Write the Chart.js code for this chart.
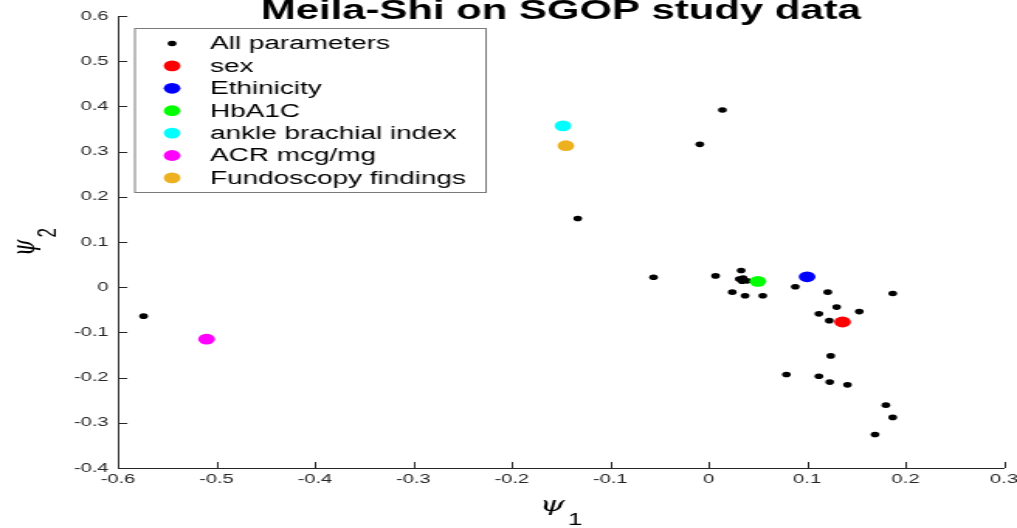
<!DOCTYPE html>
<html>
<head>
<meta charset="utf-8">
<script src="https://cdn.jsdelivr.net/npm/chart.js@4.4.1/dist/chart.umd.min.js"></script>
<style>
  html, body { margin: 0; padding: 0; background: #ffffff; overflow: hidden; }
  #wrap { position: absolute; left: 0; top: 0; width: 656px; height: 528px;
          transform: scaleX(1.55030); transform-origin: 0 0; }
</style>
</head>
<body>
<div id="wrap"><canvas id="c" width="656" height="528"></canvas></div>
<script>
// ---------------- data ----------------
const chartTitle = 'Meila-Shi on SGOP study data';
const seriesNames = ['All parameters', 'sex', 'Ethinicity', 'HbA1C',
  'ankle brachial index', 'ACR mcg/mg', 'Fundoscopy findings'];

const allParamsPsi1 = [-0.574, -0.133, -0.009, 0.014, -0.056, 0.007, 0.033, 0.031, 0.035, 0.039,
  0.034, 0.024, 0.037, 0.055, 0.088, 0.121, 0.187, 0.130, 0.153, 0.112,
  0.1225, 0.124, 0.079, 0.112, 0.123, 0.141, 0.180, 0.187, 0.169];
const allParamsPsi2 = [-0.064, 0.152, 0.316, 0.392, 0.022, 0.025, 0.037, 0.018, 0.020, 0.014,
  0.013, -0.011, -0.019, -0.019, 0.001, -0.011, -0.014, -0.044, -0.054, -0.059,
  -0.074, -0.152, -0.193, -0.197, -0.210, -0.216, -0.261, -0.288, -0.326];

// sex, Ethinicity, HbA1C, ankle brachial index, ACR mcg/mg, Fundoscopy findings
const highlightPsi1 = [0.136, 0.100, 0.050, -0.148, -0.510, -0.145];
const highlightPsi2 = [-0.077, 0.023, 0.013, 0.357, -0.115, 0.313];

const xTickLabels = ['-0.6', '-0.5', '-0.4', '-0.3', '-0.2', '-0.1', '0', '0.1', '0.2', '0.3'];
const yTickLabels = ['-0.4', '-0.3', '-0.2', '-0.1', '0', '0.1', '0.2', '0.3', '0.4', '0.5', '0.6'];

// ---------------- styles ----------------
const highlightColors = ['#ff0000', '#0000ff', '#00ff00', '#00ffff', '#ff00ff', '#edb120'];
const axisColor = '#262626';

function labelFor(list, v) {
  const f = list.find(l => Math.abs(parseFloat(l) - v) < 1e-9);
  return f === undefined ? '' : f;
}

const datasets = [{
  label: seriesNames[0],
  data: allParamsPsi1.map((x, i) => ({ x: x, y: allParamsPsi2[i] })),
  backgroundColor: '#000000',
  borderWidth: 0,
  pointRadius: 2.8,
  pointHoverRadius: 2.8,
  order: 1
}];
highlightPsi1.forEach((x, i) => {
  datasets.push({
    label: seriesNames[i + 1],
    data: [{ x: x, y: highlightPsi2[i] }],
    backgroundColor: highlightColors[i],
    borderWidth: 0,
    pointRadius: 5.4,
    pointHoverRadius: 5.4,
    order: 0
  });
});

const psiFont = 'italic 21px "DejaVu Serif"';
const subFont = '17px "Liberation Sans"';
function drawPsi(ctx, x, y, sub) {
  ctx.font = psiFont;
  ctx.textAlign = 'left';
  ctx.textBaseline = 'alphabetic';
  ctx.fillText('\u03C8', x, y);
  const w = ctx.measureText('\u03C8').width;
  ctx.font = subFont;
  ctx.fillText(sub, x + w + 2, y + 14);
}
function psiWidth(ctx, sub) {
  ctx.font = psiFont;
  const w1 = ctx.measureText('\u03C8').width;
  ctx.font = subFont;
  return w1 + 2 + ctx.measureText(sub).width;
}

const decor = {
  id: 'decor',
  afterDraw(chart) {
    const ctx = chart.ctx, a = chart.chartArea;
    const xs = chart.scales.x, ys = chart.scales.y;
    ctx.save();
    // inward tick marks
    ctx.strokeStyle = axisColor;
    ctx.lineWidth = 1;
    ctx.beginPath();
    xs.ticks.forEach(t => {
      const p = Math.round(xs.getPixelForValue(t.value)) + 0.5;
      ctx.moveTo(p, a.bottom); ctx.lineTo(p, a.bottom - 6);
    });
    ys.ticks.forEach(t => {
      const p = Math.round(ys.getPixelForValue(t.value)) + 0.5;
      ctx.moveTo(a.left, p); ctx.lineTo(a.left + 6, p);
    });
    ctx.stroke();

    // title
    const cx = (a.left + a.right) / 2;
    ctx.fillStyle = '#000000';
    ctx.font = 'bold 27px "Liberation Sans"';
    ctx.textAlign = 'center';
    ctx.textBaseline = 'alphabetic';
    ctx.fillText(chartTitle, cx, 18.5);

    // x label  psi_1
    ctx.fillStyle = '#000000';
    const wx = psiWidth(ctx, '1');
    drawPsi(ctx, cx - wx / 2, 511, '1');

    // y label  psi_2 (rotated)
    const cy = (a.top + a.bottom) / 2;
    ctx.save();
    ctx.translate(22, cy);
    ctx.rotate(-Math.PI / 2);
    const wy = psiWidth(ctx, '2');
    drawPsi(ctx, -wy / 2, 0, '2');
    ctx.restore();

    // legend
    const L = 86.5, T = 28, R = 313, B = 192;
    ctx.fillStyle = '#ffffff';
    ctx.fillRect(L, T, R - L, B - T);
    ctx.strokeStyle = '#7a7a7a';
    ctx.lineWidth = 1;
    ctx.strokeRect(L + 0.5, T + 0.5, R - L, B - T);
    chart.data.datasets.forEach((ds, i) => {
      const yy = 43.5 + i * 22.4;
      ctx.fillStyle = ds.backgroundColor;
      ctx.beginPath();
      ctx.arc(111, yy, ds.pointRadius, 0, Math.PI * 2);
      ctx.fill();
      ctx.fillStyle = '#000000';
      ctx.font = '18px "Liberation Sans"';
      ctx.textAlign = 'left';
      ctx.textBaseline = 'middle';
      ctx.fillText(ds.label, 135.5, yy + 1);
    });
    ctx.restore();
  }
};

new Chart(document.getElementById('c'), {
  type: 'scatter',
  data: { datasets: datasets },
  options: {
    responsive: false,
    devicePixelRatio: 1,
    animation: false,
    layout: { padding: { left: 0, right: 8.4, top: 16, bottom: 0 } },
    plugins: {
      legend: { display: false },
      title: { display: false },
      tooltip: { enabled: false }
    },
    scales: {
      x: {
        type: 'linear',
        min: -0.6, max: 0.3,
        ticks: {
          stepSize: 0.1,
          padding: 4,
          color: axisColor,
          font: { family: '"Liberation Sans"', size: 13 },
          maxRotation: 0,
          autoSkip: false,
          callback: (v) => labelFor(xTickLabels, v)
        },
        grid: { drawOnChartArea: false, drawTicks: false },
        border: { display: true, color: axisColor, width: 1 },
        afterFit: (s) => { s.height = 60; s.paddingLeft = 0; s.paddingRight = 0; }
      },
      y: {
        type: 'linear',
        min: -0.4, max: 0.6,
        ticks: {
          stepSize: 0.1,
          padding: 6,
          color: axisColor,
          font: { family: '"Liberation Sans"', size: 13 },
          autoSkip: false,
          callback: (v) => labelFor(yTickLabels, v)
        },
        grid: { drawOnChartArea: false, drawTicks: false },
        border: { display: true, color: axisColor, width: 1 },
        afterFit: (s) => { s.width = 76.1; s.paddingTop = 0; s.paddingBottom = 0; }
      }
    }
  },
  plugins: [decor]
});
</script>
</body>
</html>
